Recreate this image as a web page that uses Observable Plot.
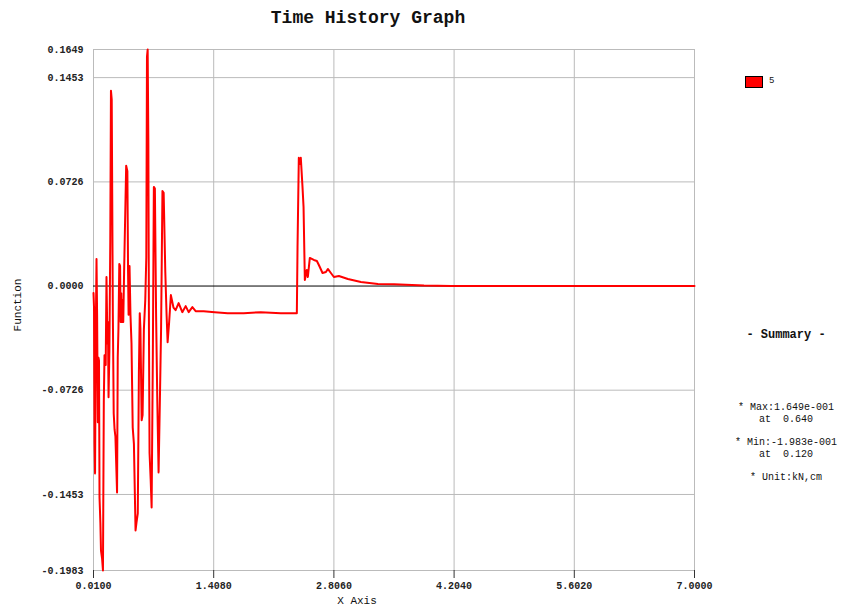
<!DOCTYPE html>
<html><head><meta charset="utf-8">
<script src="https://cdn.jsdelivr.net/npm/d3@7"></script>
<script src="https://cdn.jsdelivr.net/npm/@observablehq/plot@0.6"></script>
<style>
body{margin:0;background:#fff;font-family:"Liberation Mono","DejaVu Sans Mono",monospace;color:#111;}
#wrap{position:relative;width:841px;height:608px;overflow:hidden;}
.abs{position:absolute;white-space:pre;}
#title{left:0;top:8px;width:736px;text-align:center;font-size:18px;font-weight:bold;line-height:20px;}
#chart{position:absolute;left:0;top:40px;}
#ylab{left:18px;top:305px;transform:translate(-50%,-50%) rotate(-90deg);font-size:11px;}
#xlab{left:357px;top:601px;transform:translate(-50%,-50%);font-size:11px;}
#legrect{left:745px;top:76px;width:18px;height:12px;box-sizing:border-box;background:#ff0000;border:1px solid #000;}
#legtxt{left:769px;top:75px;font-size:9px;line-height:12px;}
.sum{left:731px;width:110px;text-align:center;font-size:10px;line-height:12px;transform:translateY(-50%);}
#sumh{font-size:12px;font-weight:bold;}
</style></head><body>
<div id="wrap">
  <div id="title" class="abs">Time History Graph</div>
  <div id="chart"></div>
  <div id="ylab" class="abs">Function</div>
  <div id="xlab" class="abs">X Axis</div>
  <div id="legrect" class="abs"></div>
  <div id="legtxt" class="abs">5</div>
  <div id="sumh" class="abs sum" style="top:335px">- Summary -</div>
  <div class="abs sum" style="top:408px">* Max:1.649e-001</div>
  <div class="abs sum" style="top:420px">at  0.640</div>
  <div class="abs sum" style="top:443px">* Min:-1.983e-001</div>
  <div class="abs sum" style="top:455px">at  0.120</div>
  <div class="abs sum" style="top:478px">* Unit:kN,cm</div>
</div>
<script>
const time = [0.010, 0.016, 0.022, 0.028, 0.037, 0.045, 0.052, 0.060, 0.068, 0.074, 0.080, 0.090, 0.097, 0.110, 0.120, 0.130, 0.138, 0.145, 0.152, 0.161, 0.172, 0.178, 0.185, 0.195, 0.205, 0.213, 0.222, 0.228, 0.235, 0.245, 0.255, 0.265, 0.284, 0.292, 0.300, 0.310, 0.319, 0.326, 0.333, 0.340, 0.348, 0.356, 0.366, 0.390, 0.404, 0.412, 0.418, 0.424, 0.429, 0.440, 0.452, 0.466, 0.480, 0.499, 0.510, 0.525, 0.538, 0.548, 0.556, 0.570, 0.581, 0.596, 0.612, 0.624, 0.632, 0.640, 0.648, 0.655, 0.662, 0.675, 0.686, 0.700, 0.712, 0.724, 0.738, 0.752, 0.767, 0.782, 0.796, 0.812, 0.826, 0.845, 0.860, 0.872, 0.890, 0.910, 0.940, 0.965, 1.000, 1.043, 1.082, 1.117, 1.160, 1.198, 1.291, 1.420, 1.571, 1.757, 1.955, 2.188, 2.375, 2.383, 2.398, 2.410, 2.421, 2.440, 2.453, 2.468, 2.491, 2.503, 2.526, 2.573, 2.608, 2.631, 2.674, 2.713, 2.736, 2.771, 2.806, 2.864, 2.969, 3.120, 3.318, 3.505, 3.854, 4.169, 5.500, 7.000];
const force = [-0.0049, -0.0150, -0.1096, -0.1306, -0.0300, 0.0189, -0.0200, -0.0950, -0.0500, -0.0520, -0.1473, -0.1650, -0.1844, -0.1900, -0.1983, -0.0796, -0.0482, -0.0520, -0.0550, 0.0063, -0.0400, -0.0250, -0.0775, -0.0450, 0.0300, 0.1362, 0.1300, 0.0600, -0.0200, -0.0887, -0.1000, -0.1050, -0.1439, -0.0500, -0.0300, 0.0154, 0.0140, -0.0250, -0.0050, -0.0250, -0.0100, -0.0250, 0.0100, 0.0838, 0.0800, 0.0100, -0.0200, -0.0050, 0.0140, -0.0200, -0.0400, -0.0985, -0.1100, -0.1704, -0.1650, -0.1585, -0.0600, -0.0189, -0.0300, -0.0936, -0.0900, -0.0300, -0.0100, 0.0200, 0.1600, 0.1649, 0.1000, -0.0300, -0.1166, -0.1350, -0.1543, -0.0500, 0.0691, 0.0680, -0.0200, -0.0800, -0.1299, -0.0800, -0.0300, 0.0663, 0.0650, 0.0100, -0.0200, -0.0391, -0.0250, -0.0063, -0.0150, -0.0168, -0.0119, -0.0182, -0.0140, -0.0182, -0.0147, -0.0175, -0.0175, -0.0182, -0.0189, -0.0189, -0.0182, -0.0189, -0.0189, 0.0272, 0.0894, 0.0850, 0.0894, 0.0700, 0.0552, 0.0042, 0.0112, 0.0063, 0.0196, 0.0182, 0.0175, 0.0147, 0.0091, 0.0098, 0.0119, 0.0091, 0.0063, 0.0070, 0.0049, 0.0028, 0.0014, 0.0012, 0.0003, 0.0000, 0.0000, 0.0000];
const xTicks = [0.01, 1.408, 2.806, 4.204, 5.602, 7.0];
const yTicks = [-0.1983, -0.1453, -0.0726, 0, 0.0726, 0.1453, 0.1649];
const yGrid = [-0.1453, -0.0726, 0.0726, 0.1453];

const data = time.map((t, i) => ({t, v: force[i]}));
const fmt = d => d.toFixed(4);

const chart = Plot.plot({
  width: 841, height: 568,
  marginTop: 9, marginBottom: 38, marginLeft: 93, marginRight: 147,
  style: {fontFamily: '"Liberation Mono","DejaVu Sans Mono",monospace', fontSize: "10px", fontWeight: "bold", color: "#222", background: "#fff"},
  x: {domain: [0.01, 7.0]},
  y: {domain: [-0.1983, 0.1649]},
  marks: [
    Plot.ruleX(xTicks, {stroke: "#bbb", strokeWidth: 1}),
    Plot.ruleY(yGrid, {stroke: "#bbb", strokeWidth: 1}),
    Plot.frame({stroke: "#bbb"}),
    Plot.ruleY([0], {stroke: "#000", strokeWidth: 1}),
    Plot.line(data, {x: "t", y: "v", stroke: "#ff0000", strokeWidth: 2}),
    Plot.axisX({ticks: xTicks, tickFormat: fmt, tickSize: 8, tickPadding: 3, label: null, stroke: "#333"}),
    Plot.axisY({ticks: yTicks, tickFormat: fmt, tickSize: 0, tickPadding: 10, label: null})
  ]
});
document.getElementById("chart").appendChild(chart);
</script>
</body></html>
